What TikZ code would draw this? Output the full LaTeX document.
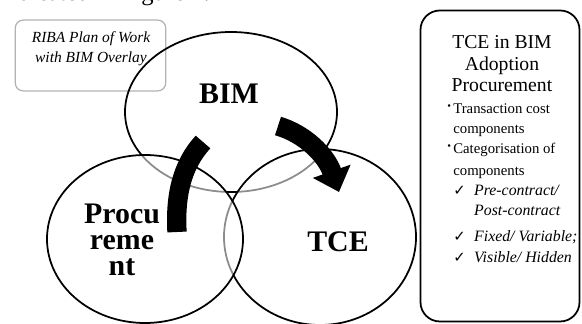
\documentclass[tikz,border=0pt]{standalone}
\usepackage{fontspec}
\setmainfont{Liberation Serif}
\newfontfamily\ckfont{DejaVu Sans}
\usetikzlibrary{arrows.meta,positioning}

\newcommand{\dotitem}{\makebox[3.4pt][l]{\raisebox{2pt}{\fontsize{6}{6}\selectfont •}}}
\newcommand{\tickitem}{\hspace*{3.4pt}\makebox[11.9pt][l]{\ckfont ✓}}
\newcommand{\tickword}[1]{{\fontsize{9}{11.4}\selectfont\itshape #1}}

\begin{document}
\begin{tikzpicture}[x=0.02cm,y=-0.02cm,
    ring/.style={line width=1pt},
    seethru/.style={ring, fill=white, fill opacity=0.55},
    bigword/.style={font=\fontsize{17}{15}\selectfont\bfseries, align=center, inner sep=0pt},
    band/.style={line width=11pt},
    ribabox/.style={draw=gray!60, line width=0.7pt, rounded corners=4.5pt, minimum width=85.6pt, minimum height=40.3pt},
    infobox/.style={draw, line width=1pt, rounded corners=11pt, minimum width=90.5pt, minimum height=177pt}]
    \useasboundingbox (0,0) rectangle (582,324);
    \clip (0,0) rectangle (582,324);

    % line of the page above, cut off
    \node[anchor=base west, inner sep=0pt, font=\fontsize{14}{16}\selectfont] (pageline) at (-1,1) {indicated in Figure 1.};

    \node[ribabox] (riba) at (90.5,55.5) {};
    \node[anchor=base, inner sep=0pt, align=center, font=\fontsize{8.8}{11.9}\selectfont\itshape] (ribatext) at (91,63) {RIBA Plan of Work\\with BIM Overlay};

    % the three sets
    \draw[ring] (231,112) ellipse [x radius=106, y radius=80];
    \draw[seethru] (320,237) ellipse [x radius=96, y radius=88];
    \draw[seethru] (145,239) ellipse [x radius=98, y radius=84];

    \node[bigword] (bim) at (229,94) {BIM};
    \node[bigword, anchor=base] (proc) at (122,276) {Procu\\reme\\nt};
    \node[bigword] (tce) at (338,242) {TCE};

    % thick curved arrows
    \coordinate (lfoot) at (177,232);
    \coordinate (ltop) at (203,142);
    \draw[band] (lfoot) .. controls (175,195) and (182,165) .. (ltop);
    \coordinate (rtail) at (278,126);
    \coordinate (rtip) at (339,192);
    \draw[band, -{Triangle[length=12.5pt, width=22pt]}] (rtail) .. controls (305,134) and (326,155) .. (rtip);

    % side panel
    \node[infobox] (info) at (500,166) {};
    \node[anchor=base, inner sep=0pt, align=center, font=\fontsize{11.2}{12.5}\selectfont] (infotitle) at (502,92) {TCE in BIM\\Adoption\\Procurement};
    \node[anchor=base west, inner sep=0pt, align=left, font=\fontsize{8.4}{11.4}\selectfont] (infolist) at (447,263) {%
        \dotitem Transaction cost\\
        \hspace*{3.4pt}components\\
        \dotitem Categorisation of\\[1.5pt]
        \hspace*{3.4pt}components\\
        \tickitem\tickword{Pre-contract/}\\
        \hspace*{15.3pt}\tickword{Post-contract}\\[3pt]
        \tickitem\tickword{Fixed/ Variable;}\\[1pt]
        \tickitem\tickword{Visible/ Hidden}};
\end{tikzpicture}
\end{document}
